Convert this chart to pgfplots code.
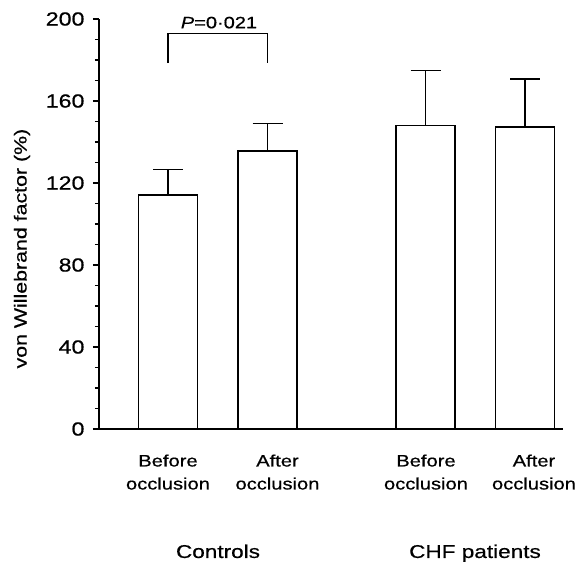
\documentclass[border=0pt]{standalone}
\usepackage{pgfplots}
\pgfplotsset{compat=1.18}
\usepackage{fontspec}
\setmainfont[FakeStretch=1.22, FakeBold=0.6]{Liberation Sans}
\begin{document}
\begin{tikzpicture}
\begin{axis}[
  scale only axis,
  width=464pt, height=410pt,
  xmin=99, xmax=563, ymin=0, ymax=200,
  axis x line=bottom, axis y line=left,
  axis line style={line width=1.4pt, -},
  ybar, bar width=59,
  ytick={0,40,80,120,160,200},
  minor y tick num=3,
  tick align=outside,
  major tick length=6pt, minor tick length=4pt,
  tick style={line width=1.2pt, black},
  xtick={168,277.5,426,534},
  xticklabels={Before\\occlusion, After\\occlusion, Before\\occlusion, After\\occlusion},
  x tick label style={align=center, font=\fontsize{16.5}{23}\selectfont, yshift=-16pt},
  x tick style={draw=none},
  y tick label style={font=\fontsize{19}{22}\selectfont, xshift=-5pt},
  /pgf/number format/assume math mode=true,
  ylabel={von Willebrand factor (\%)},
  ylabel style={font=\fontsize{17.5}{20}\selectfont, at={(axis description cs:-0.166,0.44)}, anchor=center},
  clip=false,
]
\addplot[fill=white, draw=black, line width=1.6pt,
  error bars/.cd, y dir=plus, y explicit,
  error bar style={line width=1.5pt, black},
  error mark options={rotate=90, mark size=15pt, line width=1.5pt, black}]
  coordinates {
  (168,114.1) +- (0,12.5)
  (267.5,135.7) +- (0,13.4)
  (425.5,148.0) +- (0,26.8)
  (525,147.2) +- (0,23.5)
  };
\draw[line width=1.3pt] (axis cs:168,178.5) -- (axis cs:168,193) -- (axis cs:267.5,193) -- (axis cs:267.5,178.5);
\node[font=\fontsize{16.4}{19}\selectfont, anchor=base, inner sep=0pt] at (axis cs:219,195.5) {\textit{P}=0·021};
\node[font=\fontsize{18.5}{21}\selectfont, anchor=base, inner sep=0pt] at (axis cs:218,-62.9) {Controls};
\node[font=\fontsize{18.5}{21}\selectfont, anchor=base, inner sep=0pt] at (axis cs:475,-62.9) {CHF patients};
\end{axis}
\pgfresetboundingbox
\path (current axis.south west) ++(-99pt,-134pt) rectangle ++(581pt,563pt);
\end{tikzpicture}
\end{document}
